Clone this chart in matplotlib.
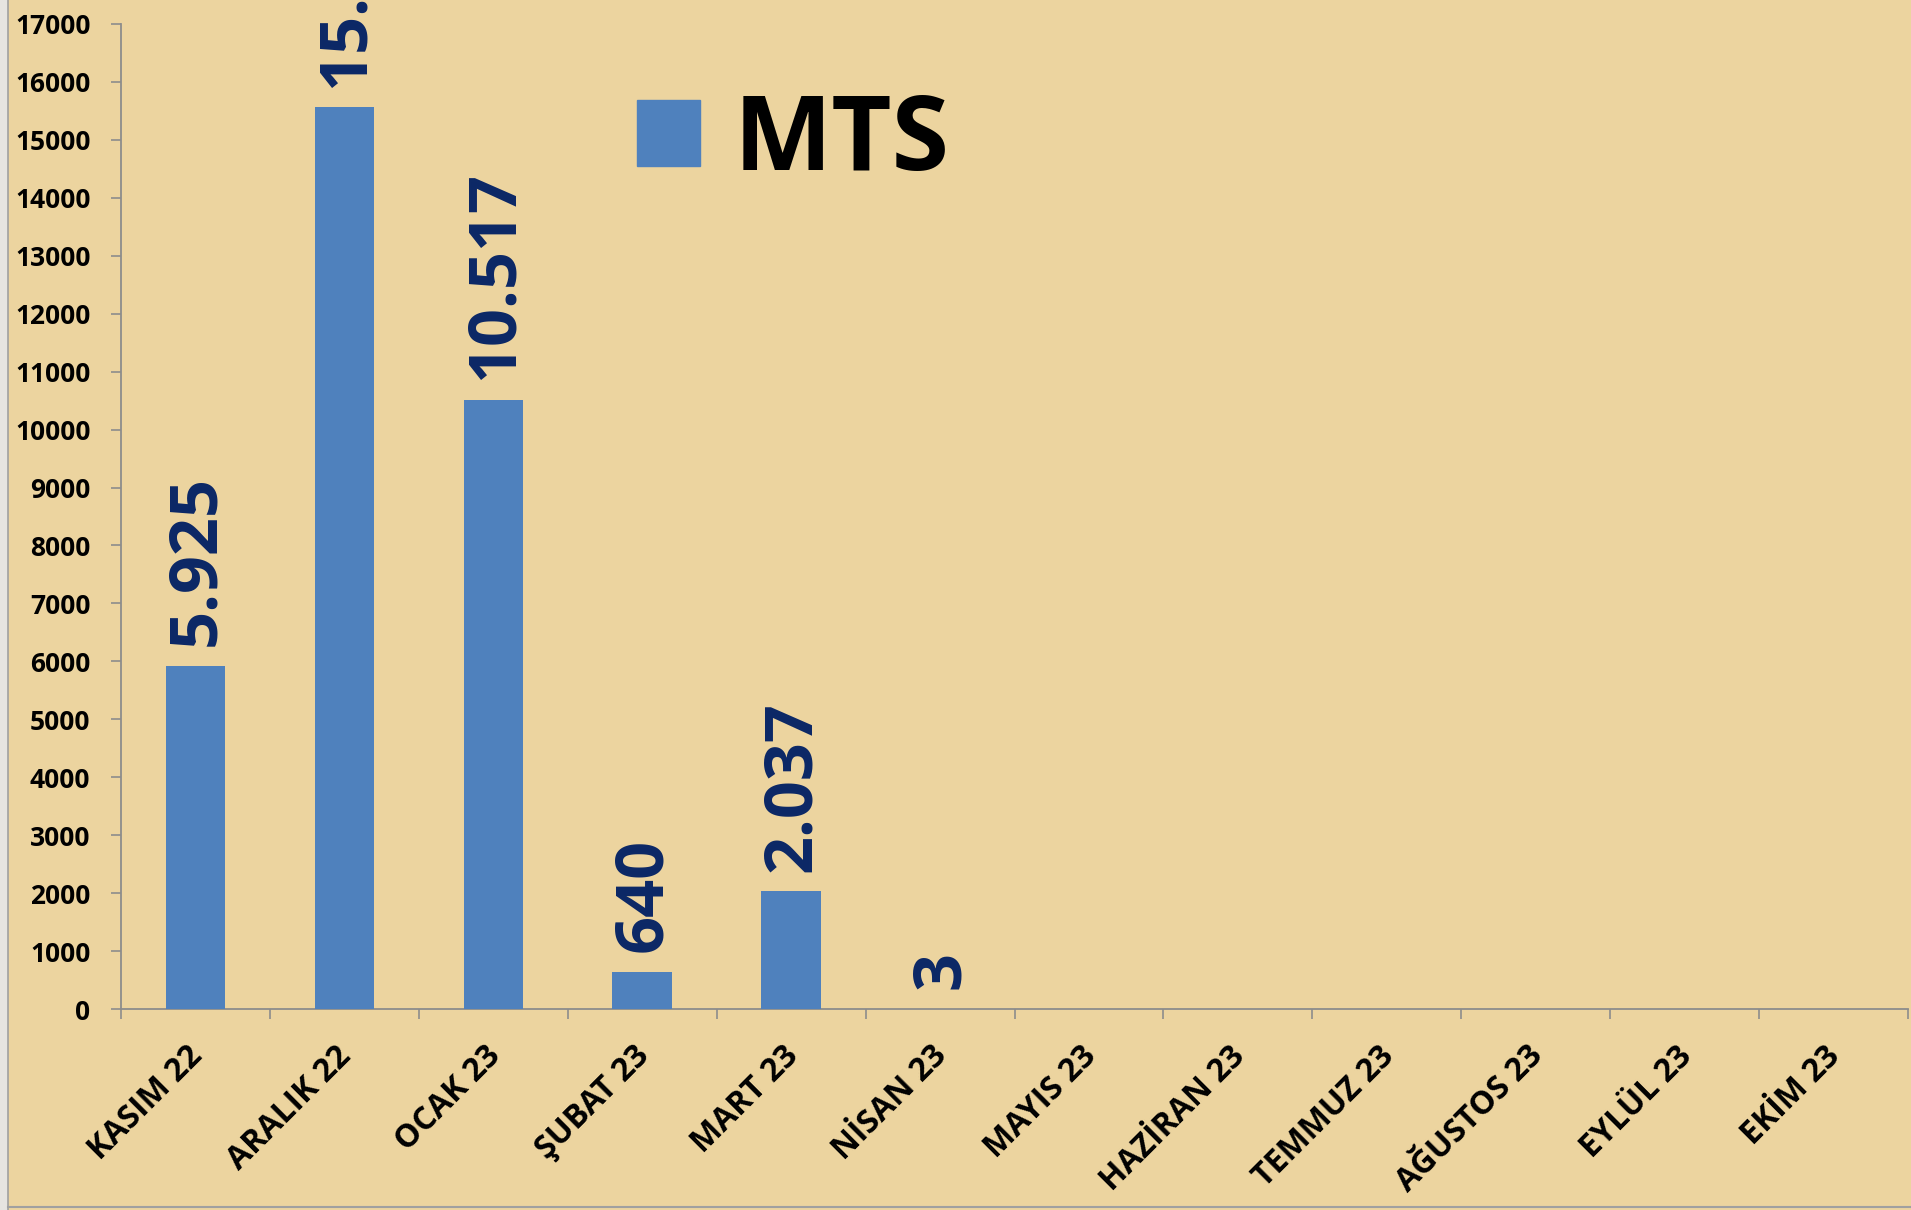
import matplotlib
matplotlib.use("Agg")
import matplotlib.pyplot as plt
from matplotlib.patches import Rectangle
from matplotlib.lines import Line2D
import matplotlib.transforms as mtransforms
import numpy as np

categories = ["KASIM 22", "ARALIK 22", "OCAK 23", "ŞUBAT 23", "MART 23", "NİSAN 23",
              "MAYIS 23", "HAZİRAN 23", "TEMMUZ 23", "AĞUSTOS 23", "EYLÜL 23", "EKİM 23"]
values = [5925, 15563, 10517, 640, 2037, 3, 0, 0, 0, 0, 0, 0]
labels = ["5.925", "15.563", "10.517", "640", "2.037", "3", "", "", "", "", "", ""]
series_name = "MTS"
yticks = list(range(0, 17001, 1000))

FONT = "Open Sans"
BG = "#ECD49F"
BAR = "#4F81BD"
LBL = "#0B2766"
AX = "#8C8C8C"

W, H, DPI = 1911, 1210, 100
fig = plt.figure(figsize=(W / DPI, H / DPI), dpi=DPI)
fig.patch.set_facecolor(BG)

left, right = 121 / W, 1908 / W
bottom, top = 1 - 1009 / H, 1 - 24 / H
ax = fig.add_axes([left, bottom, right - left, top - bottom])
ax.set_facecolor("none")

x = np.arange(len(categories))
ax.bar(x, values, width=0.40, color=BAR, zorder=3)

for xi, v, lab in zip(x, values, labels):
    if lab:
        ax.annotate(lab, (xi, v), xytext=(1, 14), textcoords="offset points",
                    rotation=90, ha="center", va="bottom", fontsize=48,
                    fontweight="bold", color=LBL, family=FONT, zorder=4)

ax.set_xlim(-0.5, len(categories) - 0.5)
ax.set_ylim(0, 17000)

for s in ["top", "right"]:
    ax.spines[s].set_visible(False)
for s in ["left", "bottom"]:
    ax.spines[s].set_color(AX)
    ax.spines[s].set_linewidth(1.3)

ax.set_yticks(yticks)
ax.set_yticklabels([str(t) for t in yticks], fontsize=19, fontweight="bold", family=FONT)
ax.tick_params(axis="y", direction="out", length=7, width=1.2, color=AX, pad=15)

ax.set_xticks(np.arange(len(categories) + 1) - 0.5)
ax.set_xticklabels([])
ax.tick_params(axis="x", which="major", direction="out", length=7, width=1.2, color=AX)
ax.set_xticks(x, minor=True)
ax.set_xticklabels(categories, minor=True, rotation=45, ha="right", va="top",
                   fontsize=23, fontweight="bold", family=FONT)
ax.tick_params(axis="x", which="minor", length=0, pad=22)
offset = mtransforms.ScaledTranslation(14 / DPI, 0, fig.dpi_scale_trans)
for t in ax.get_xticklabels(minor=True):
    t.set_transform(t.get_transform() + offset)

leg = ax.legend([Rectangle((0, 0), 1, 1, color=BAR)], [series_name],
                loc="center left", bbox_to_anchor=(637 / W, 1 - 143 / H),
                bbox_transform=fig.transFigure, frameon=False,
                prop={"family": FONT, "weight": "bold", "size": 75},
                handlelength=0.6, handleheight=0.6, handletextpad=0.33,
                borderpad=0, borderaxespad=0)

# left strip and bottom border of slide
fig.patches.append(Rectangle((0, 0), 8 / W, 1, transform=fig.transFigure,
                             facecolor="#E6E4E0", edgecolor="none", zorder=0))
fig.lines.append(Line2D([8 / W, 8 / W], [0, 1], transform=fig.transFigure,
                        color="#A0A0A0", linewidth=1.2))
fig.lines.append(Line2D([8 / W, 1], [3 / H, 3 / H], transform=fig.transFigure,
                        color="#A0A0A0", linewidth=1.5))

fig.savefig("out.png", dpi=DPI, facecolor=fig.get_facecolor())
